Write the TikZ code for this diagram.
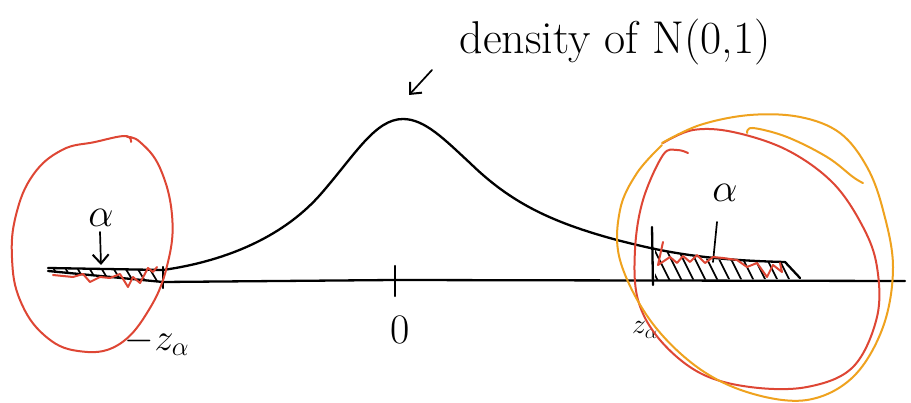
\RequirePackage{fix-cm}
\documentclass[tikz,border=0pt]{standalone}
\usetikzlibrary{arrows.meta}
\definecolor{redink}{HTML}{DE4634}
\definecolor{orangeink}{HTML}{EFA21E}
\begin{document}
\begin{tikzpicture}[x=1pt,y=-1pt,line cap=round,line join=round]
\tikzset{
  ink/.style={line width=2.3pt,black},
  thin ink/.style={line width=1.7pt,black},
  red stroke/.style={line width=2pt,redink},
  orange stroke/.style={line width=2pt,orangeink},
  hand/.style={inner sep=0pt,text=black},
  barb/.style={-{Straight Barb[length=9pt,width=16pt,line width=2pt]}}
}
\useasboundingbox (0,0) rectangle (911,403);
\fill[white] (0,0) rectangle (911,403);

% hatched tails
\begin{scope}
  \clip (48,268) -- (163,270) -- (163,282) -- (48,271) -- cycle;
  \foreach \x in {40,52,...,170} \draw[thin ink] (\x,266) -- (\x+12,286);
\end{scope}
\begin{scope}
  \clip (655,249) .. controls (690,257) .. (720,260) -- (785,262) -- (800,279) -- (655,280) -- cycle;
  \foreach \x in {640,652,...,800} \draw[thin ink] (\x,245) -- (\x+18,281);
\end{scope}

% axis
\draw[ink] (48,271) -- (163,282) -- (395,280) -- (905,281);
% density curve
\draw[ink] (48,268) -- (163,270) .. controls (220,262) and (280,240) .. (320,195)
  .. controls (355,155) and (375,119) .. (403,119)
  .. controls (425,119) and (445,140) .. (470,163)
  .. controls (510,202) and (550,222) .. (617,240)
  .. controls (660,251) and (700,260) .. (785,262) -- (800,278);

% ticks
\coordinate (tl1) at (163,267); \coordinate (tl2) at (163,288);
\coordinate (t01) at (395,266); \coordinate (t02) at (395,296);
\coordinate (tr1) at (652,227); \coordinate (tr2) at (653,285);
\draw[ink] (tl1) -- (tl2);
\draw[ink] (t01) -- (t02);
\draw[ink] (tr1) -- (tr2);

% labels
\node[hand,font=\fontsize{38}{42}\selectfont] (mz) at (157,342) {$-z_\alpha$};
\node[hand,font=\fontsize{42}{46}\selectfont] (zero) at (400,330) {0};
\node[hand,font=\fontsize{28}{32}\selectfont] (pz) at (645,330) {$z_\alpha$};
\node[hand,font=\fontsize{40}{44}\selectfont] (al) at (101,218) {$\alpha$};
\node[hand,font=\fontsize{40}{44}\selectfont] (ar) at (725,193) {$\alpha$};
\node[hand,font=\fontsize{46}{50}\selectfont] (title) at (615,42) {density of N(0,1)};

% pointers
\coordinate (alend) at (101,265);
\draw[thin ink,barb] (100,232) -- (alend);
\coordinate (arend) at (713,262);
\draw[thin ink] (717,222) -- (arend);
\coordinate (ts) at (432,70);
\coordinate (te) at (409,95);
\draw[thin ink,barb] (ts) -- (te);

% red zigzags
\draw[red stroke] (53,275) -- (73,277) -- (83,274) -- (90,282) -- (100,277) -- (110,278) -- (120,274) -- (128,287) -- (133,277) -- (140,283) -- (148,268) -- (153,272) -- (157,267);
\draw[red stroke] (663,242) -- (658,265) -- (670,257) -- (677,263) -- (683,256) -- (690,262) -- (697,255) -- (705,263) -- (713,257) -- (723,258) -- (737,260) -- (747,267) -- (757,263) -- (767,277) -- (773,265) -- (782,272) -- (780,263);

% left red loop
\draw[red stroke] plot[smooth,tension=0.7] coordinates {(131,142) (125,136) (95,142) (62,150) (33,175) (16,215) (12,258) (20,300) (44,335) (78,351) (118,345) (150,308) (168,262) (172,215) (160,168) (140,142) (127,137)};

% right red loop
\draw[red stroke] plot[smooth,tension=0.6] coordinates {(688,153) (677,150) (663,155) (643,200) (635,250) (638,300) (660,340) (700,373) (750,387) (807,387) (853,367) (877,317) (877,267) (863,227) (833,183) (787,150) (733,132) (693,130) (663,143)};

% orange loop
\draw[orange stroke] plot[smooth,tension=0.6] coordinates {(662,143) (700,125) (750,115) (800,117) (840,133) (867,167) (883,210) (893,267) (883,327) (853,377) (807,400) (750,393) (697,367) (650,320) (620,260) (620,210) (637,173) (662,145)};
\draw[orange stroke] plot[smooth,tension=0.6] coordinates {(747,133) (753,128) (787,137) (827,157) (853,177) (863,183)};
\end{tikzpicture}
\end{document}
